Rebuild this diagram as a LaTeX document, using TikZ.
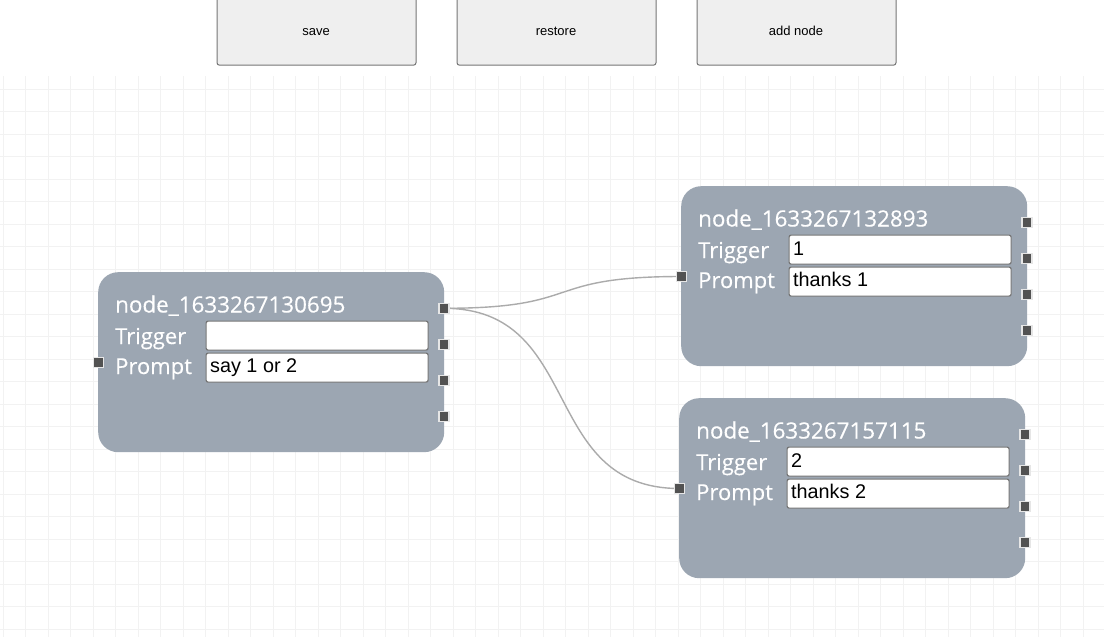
\documentclass[tikz,border=0pt]{standalone}
\usepackage{fontspec}
\setmainfont{Liberation Sans}
\newfontfamily\uifont[FakeBold=0.35]{Open Sans}
\definecolor{gridc}{HTML}{F2F2F2}
\definecolor{nodec}{HTML}{9CA6B2}
\definecolor{btnfill}{HTML}{EFEFEF}
\definecolor{btnline}{HTML}{767676}
\definecolor{portc}{HTML}{525252}
\definecolor{portb}{HTML}{E6E6E6}
\definecolor{wirec}{HTML}{ABABAB}
\pgfdeclarelayer{fg}
\pgfsetlayers{main,fg}
\tikzset{
  btn/.style={draw=btnline, fill=btnfill, line width=1pt, rounded corners=2.5pt, minimum width=199pt, minimum height=72pt, anchor=south west, inner sep=0pt},
  btntext/.style={font=\fontsize{13}{15}\selectfont, text=black, inner sep=0pt, anchor=base},
  nodebox/.style={fill=nodec, rounded corners=20pt, minimum width=346pt, minimum height=180pt, anchor=north west, inner sep=0pt},
  ntitle/.style={font=\uifont\fontsize{22.4}{26}\selectfont, text=white, inner sep=0pt, anchor=base west},
  nlabel/.style={font=\uifont\fontsize{22}{26}\selectfont, text=white, inner sep=0pt, anchor=base west},
  inbox/.style={draw=btnline, fill=white, line width=1.2pt, rounded corners=2pt, minimum width=222pt, minimum height=29pt, anchor=north west, inner sep=0pt},
  intext/.style={font=\fontsize{19.8}{22}\selectfont, text=black, inner sep=0pt, anchor=base west},
  port/.style={fill=portc, draw=portb, line width=1.5pt, minimum size=10pt, inner sep=0pt},
  wire/.style={draw=wirec, line width=1.4pt},
}
\newcommand{\flownode}[6]{%
  \node[nodebox] (#1box) at (#2,#3) {};
  \node[ntitle] (#1title) at (#2+17,#3+40.5) {#4};
  \node[nlabel] (#1tl) at (#2+17,#3+72) {Trigger};
  \node[nlabel] (#1pl) at (#2+17,#3+102) {Prompt};
  \node[inbox] (#1tb) at (#2+107.5,#3+48.5) {};
  \node[inbox] (#1pb) at (#2+107.5,#3+80.5) {};
  \node[intext] (#1tt) at (#2+112,#3+69) {#5};
  \node[intext] (#1pt) at (#2+112,#3+100.5) {#6};
  \begin{pgfonlayer}{fg}
  \node[port] (#1in) at (#2+0.5,#3+90.5) {};
  \node[port] (#1o1) at (#2+346,#3+36.3) {};
  \node[port] (#1o2) at (#2+346,#3+72.5) {};
  \node[port] (#1o3) at (#2+346,#3+108.5) {};
  \node[port] (#1o4) at (#2+346,#3+144.5) {};
  \end{pgfonlayer}
}
\begin{document}
\begin{tikzpicture}[x=1pt,y=-1pt]
\useasboundingbox (0,0) rectangle (1104,637);
\fill[white] (0,0) rectangle (1104,637);
% grid
\foreach \i in {0,...,49} {
  \draw[gridc, line width=1pt] (3.3+22.5*\i,76) -- (3.3+22.5*\i,637);
}
\foreach \j in {0,...,24} {
  \draw[gridc, line width=1pt] (0,89.3+22.5*\j) -- (1104,89.3+22.5*\j);
}
% buttons
\node[btn] (bsave) at (216.5,65.7) {};
\node[btn] (brestore) at (456.5,65.7) {};
\node[btn] (badd) at (696.5,65.7) {};
\node[btntext] (tsave) at (316,35.7) {save};
\node[btntext] (trestore) at (556,35.7) {restore};
\node[btntext] (tadd) at (796,35.7) {add node};
% nodes
\flownode{a}{98}{272}{node\_1633267130695}{}{say 1 or 2}
\flownode{b}{681}{186}{node\_1633267132893}{1}{thanks 1}
\flownode{c}{679}{398}{node\_1633267157115}{2}{thanks 2}
% wires
\draw[wire] (ao1.center) .. controls +(142,0) and +(-142,0) .. (bin.center);
\draw[wire] (ao1.center) .. controls +(141,0) and +(-141,0) .. (cin.center);
\end{tikzpicture}
\end{document}
